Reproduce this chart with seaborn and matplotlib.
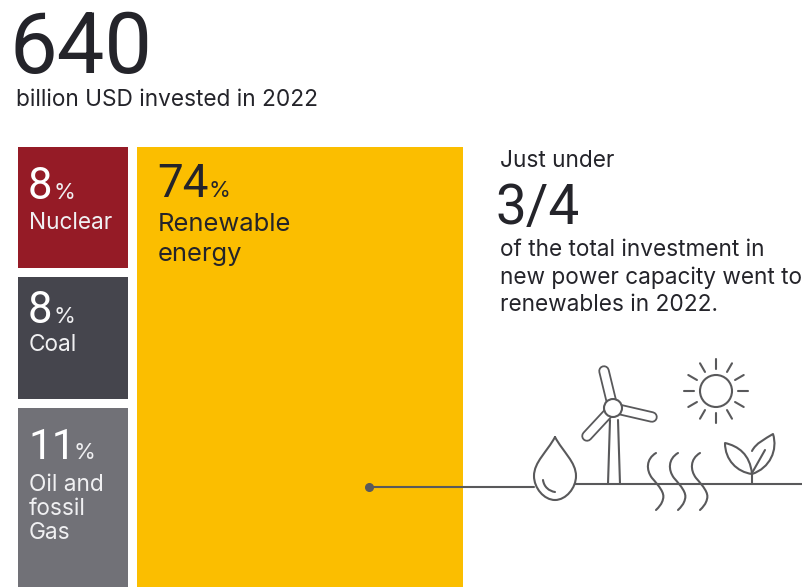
import numpy as np
import matplotlib
matplotlib.use("Agg")
import matplotlib.pyplot as plt
from matplotlib.patches import Circle, PathPatch
from matplotlib.path import Path
import seaborn as sns

# Share of 2022 investment in new power capacity, per cent
side_sources = ["Nuclear", "Coal", "Oil and\nfossil\nGas"]
side_shares = [8, 8, 11]
main_source = "Renewable\nenergy"
main_share = 74
total_investment = "640"
total_caption = "billion USD invested in 2022"
note_lead = "Just under"
note_figure = "3/4"
note_lines = ["of the total investment in", "new power capacity went to", "renewables in 2022."]

side_colors = ["#951B26", "#45454D", "#717177"]
main_color = "#FBBE00"
ink = "#24242A"
icon_ink = "#59595B"

sns.set_theme(style="white")
plt.rcParams["font.family"] = ["Inter", "DejaVu Sans"]

W, H = 803, 587
fig = plt.figure(figsize=(W / 100, H / 100), dpi=100, facecolor="white")
ax = fig.add_axes([0, 0, 1, 1])

# Treemap layout: column widths follow the column totals, tile heights the share within a column
left, top, gap = 18.3, 147.0, 9.0
px_wide_per_pct = 4.4
px_tall_per_pct = 16.3
side_total = sum(side_shares)
side_w = side_total * px_wide_per_pct - gap
main_x = left + side_total * px_wide_per_pct


def tile(x, y, w, h, color):
    sns.barplot(x=[x + w / 2], y=[h], native_scale=True, width=w, bottom=y,
                color=color, saturation=1, errorbar=None, linewidth=0, ax=ax)


y = top
for i, (share, color) in enumerate(zip(side_shares, side_colors)):
    h = share * px_tall_per_pct
    tile(left, y, side_w, h - gap if i < len(side_shares) - 1 else h, color)
    y += h
tile(main_x, top, main_share * px_wide_per_pct, side_total * px_tall_per_pct, main_color)

ax.set_xlim(0, W)
ax.set_ylim(H, 0)
ax.axis("off")


def label(x, y, s, size, color=ink, family=None):
    return ax.text(x, y, s, fontsize=size, color=color, ha="left", va="baseline",
                   family=family or plt.rcParams["font.family"])


figures = ["Roboto", "DejaVu Sans"]

# Headline
label(10, 73, total_investment, 61, family=figures)
label(16, 106, total_caption, 16.3)

# Tile labels
number_base = [199, 323, 459]
name_base = [229, 351, 491]
pct_x = [54, 54, 74]
number_size = [31.5, 31.5, 30.5]
line_step = 24
for i, (src, share) in enumerate(zip(side_sources, side_shares)):
    label(28, number_base[i], str(share), number_size[i], "white", figures)
    label(pct_x[i], number_base[i], "%", 16, "#F0F0F2")
    for j, part in enumerate(src.split("\n")):
        label(29, name_base[i] + j * line_step, part, 16.3, "#F0F0F2")

label(157, 197, str(main_share), 33, family=figures)
label(209, 197, "%", 16)
for j, part in enumerate(main_source.split("\n")):
    label(158, 231 + j * 30, part, 18.4)

# Side note
label(500, 167, note_lead, 16.3)
label(496, 224, note_figure, 39.5, family=figures)
for base, line in zip([256, 284, 311], note_lines):
    label(500, base, line, 16.3)

# Line-art icons
lw = 1.5
line_kw = dict(color=icon_ink, lw=lw, solid_capstyle="round")


def stroke(xs, ys, **extra):
    ax.plot(xs, ys, **{**line_kw, **extra})


def curve(points, closed=False):
    codes = [Path.MOVETO] + [Path.CURVE4] * (len(points) - 1)
    ax.add_patch(PathPatch(Path(points, codes), fc="white" if closed else "none",
                           ec=icon_ink, lw=lw, capstyle="round", joinstyle="round", zorder=3))


ax.plot([369], [487], "o", color=icon_ink, ms=5.5)
stroke([369, 534], [487, 487])
stroke([575, 803], [484, 484])

# Water drop
curve([(555, 437), (547, 452), (534, 462), (534, 476),
       (534, 488), (544, 500), (555, 500),
       (566, 500), (576, 488), (576, 476),
       (576, 462), (563, 452), (555, 437)], closed=True)
curve([(543, 480), (544, 487), (549, 491), (555, 492)])

# Wind turbine
stroke([608, 610], [484, 420])
stroke([620, 618], [484, 420])
hub = (613, 408)
for tip in [(604, 371), (652, 417), (587, 436)]:
    stroke([hub[0], tip[0]], [hub[1], tip[1]], lw=8.2, zorder=3)
    stroke([hub[0], tip[0]], [hub[1], tip[1]], lw=5.6, color="white", zorder=3)
ax.add_patch(Circle(hub, 9, fc="white", ec=icon_ink, lw=lw, zorder=4))

# Sun
sun = np.array([716, 391])
ax.add_patch(Circle(sun, 16, fc="none", ec=icon_ink, lw=lw))
for a in np.deg2rad(np.arange(0, 360, 30)):
    d = np.array([np.cos(a), np.sin(a)])
    stroke(*zip(sun + 22 * d, sun + 32 * d))

# Geothermal waves
for dx in (0, 22, 44):
    curve([(656 + dx, 453), (646 + dx, 459), (646 + dx, 470), (652 + dx, 478),
           (659 + dx, 486), (665 + dx, 493), (663 + dx, 499),
           (662 + dx, 504), (659 + dx, 507), (656 + dx, 510)])

# Sprout
stroke([752, 752], [484, 473])
curve([(752, 474), (737, 472), (725, 460), (725, 443),
       (738, 446), (750, 454), (752, 474)])
curve([(752, 451), (756, 443), (765, 439), (773, 434),
       (778, 450), (770, 468), (752, 474)])
stroke([752, 765], [473, 450])

fig.savefig("out.png", dpi=100, facecolor="white")
